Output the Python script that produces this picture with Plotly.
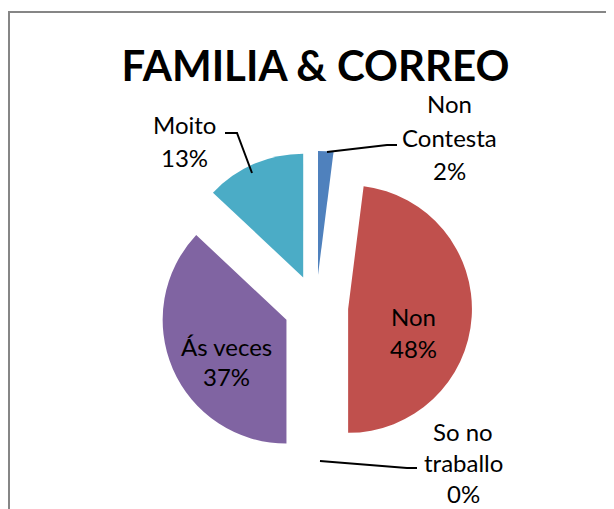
import plotly.graph_objects as go

# ---- data ----
categories = ["Non Contesta", "Non", "So no traballo", "Ás veces", "Moito"]
values = [2, 48, 0, 37, 13]
percent_labels = ["2%", "48%", "0%", "37%", "13%"]
label_lines = [["Non", "Contesta"], ["Non"], ["So no", "traballo"], ["Ás veces"], ["Moito"]]
colors = ["#4F81BD", "#C0504D", "#9BBB59", "#8064A2", "#4BACC6"]
title_text = "FAMILIA & CORREO"

# page has an 8px body margin; figure fills the rest of the 614x509 window
OFF = 8
W, H = 614 - OFF, 509 - OFF
FONT = "Lato"


def px(x):
    return (x - OFF) / W


def py(y):
    return 1 - (y - OFF) / H


fig = go.Figure()
fig.add_trace(go.Pie(
    labels=categories,
    values=values,
    sort=False,
    direction="clockwise",
    rotation=0,
    pull=[0.26] * len(values),
    marker=dict(colors=colors, line=dict(width=0)),
    textinfo="none",
    hoverinfo="label+percent",
    showlegend=False,
    domain=dict(x=[px(160), px(472)], y=[py(463), py(151)]),
))

# label placement (layout only): x centre, y of each line
label_pos = {
    0: (450, [104, 137.5, 170]),
    1: (413, [316.5, 348]),
    2: (463, [431, 462, 493]),
    3: (226, [346, 376]),
    4: (184, [124.5, 157]),
}
for i, (cx, ys) in label_pos.items():
    lines = label_lines[i] + [percent_labels[i]]
    for line, yy in zip(lines, ys):
        fig.add_annotation(
            x=px(cx), y=py(yy), xref="paper", yref="paper",
            text=line, showarrow=False, xanchor="center", yanchor="middle",
            font=dict(family=FONT, size=24, color="#000000"),
        )

# leader lines
leaders = [
    [(327, 152), (387, 145), (397, 145)],
    [(320, 461), (407, 468), (417, 468)],
    [(252, 173), (237, 133), (225, 133)],
]
for pts in leaders:
    path = "M " + " L ".join(f"{px(x)},{py(y)}" for x, y in pts)
    fig.add_shape(type="path", path=path, xref="paper", yref="paper",
                  line=dict(color="#000000", width=2))

# chart border
fig.add_shape(type="rect", xref="paper", yref="paper",
              x0=px(9), y0=-0.1, x1=1.1, y1=py(12),
              line=dict(color="#868686", width=2), fillcolor="rgba(0,0,0,0)")

fig.update_layout(
    width=W, height=H,
    margin=dict(l=0, r=0, t=0, b=0),
    paper_bgcolor="white",
    plot_bgcolor="white",
    title=dict(text=f"<b>{title_text}</b>", x=px(315.5), y=py(66),
               xanchor="center", yanchor="middle",
               font=dict(family=FONT, size=42, color="#000000")),
)

fig.write_html("out.html")
